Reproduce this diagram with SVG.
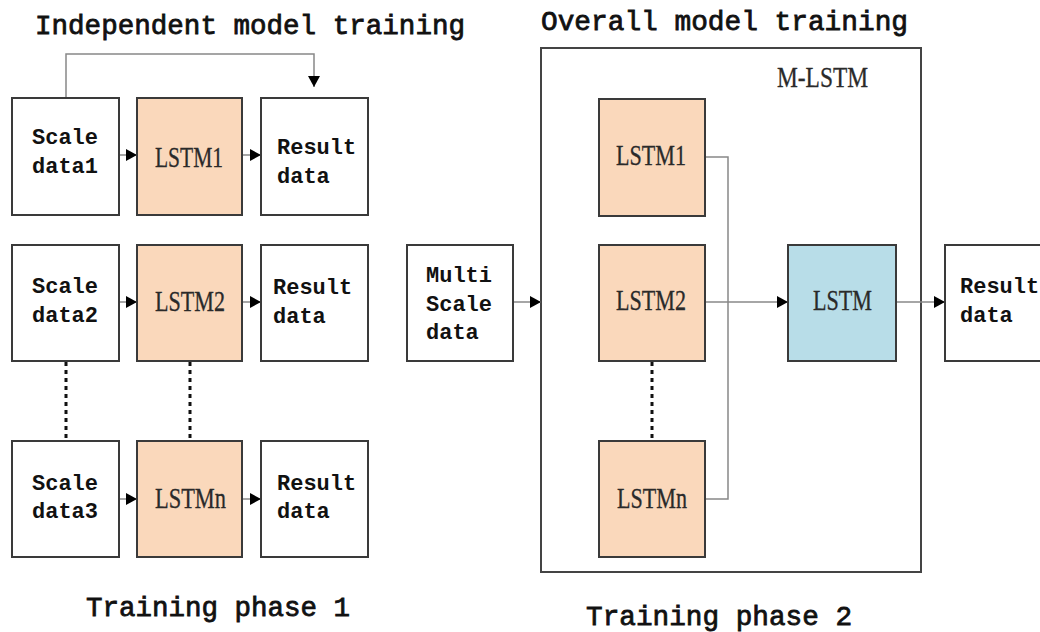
<svg xmlns="http://www.w3.org/2000/svg" width="1040" height="632" viewBox="0 0 1040 632">
<style>
.box{fill:#fff;stroke:#3a3a3a;stroke-width:2}
.peach{fill:#fad8bb;stroke:#3a3a3a;stroke-width:2}
.blue{fill:#b8dde8;stroke:#3a3a3a;stroke-width:2}
.frame{fill:none;stroke:#444;stroke-width:2}
.mono{font-family:"Liberation Mono","DejaVu Sans Mono",monospace;font-weight:bold;font-size:22px;fill:#111}
.title{font-family:"Liberation Mono","DejaVu Sans Mono",monospace;font-size:28px;fill:#111;stroke:#111;stroke-width:0.8}
.serif{font-family:"Liberation Serif","Times New Roman",serif;font-size:30px;fill:#2a2a2a;stroke:#2a2a2a;stroke-width:0.3}
.line{fill:none;stroke:#888;stroke-width:1.5}
.dot{fill:none;stroke:#111;stroke-width:3;stroke-dasharray:4 4}
</style>
<defs>
<marker id="ah" markerWidth="11" markerHeight="12" refX="11" refY="6" orient="auto" markerUnits="userSpaceOnUse">
<path d="M0,0 L11,6 L0,12 Z" fill="#000"/>
</marker>
</defs>
<rect width="1040" height="632" fill="#fff"/>
<text class="title" x="35" y="34" textLength="430" lengthAdjust="spacingAndGlyphs">Independent model training</text>
<text class="title" x="541" y="30" textLength="367" lengthAdjust="spacingAndGlyphs">Overall model training</text>
<text class="title" x="86" y="616" textLength="264" lengthAdjust="spacingAndGlyphs">Training phase 1</text>
<text class="title" x="586" y="625" textLength="266" lengthAdjust="spacingAndGlyphs">Training phase 2</text>

<g id="frame-mlstm">
<rect class="frame" x="541" y="48" width="380" height="524"/>
<text class="serif" x="777" y="87" textLength="91" lengthAdjust="spacingAndGlyphs">M-LSTM</text>
</g>

<g id="connectors">
<path class="line" d="M66,98 V54 H314 V87" marker-end="url(#ah)"/>
<line class="line" x1="119" y1="155" x2="137" y2="155" marker-end="url(#ah)"/>
<line class="line" x1="242" y1="155" x2="261" y2="155" marker-end="url(#ah)"/>
<line class="line" x1="119" y1="302" x2="137" y2="302" marker-end="url(#ah)"/>
<line class="line" x1="242" y1="302" x2="261" y2="302" marker-end="url(#ah)"/>
<line class="line" x1="119" y1="499" x2="137" y2="499" marker-end="url(#ah)"/>
<line class="line" x1="242" y1="499" x2="261" y2="499" marker-end="url(#ah)"/>
<line class="dot" x1="66" y1="362" x2="66" y2="441"/>
<line class="dot" x1="190" y1="362" x2="190" y2="441"/>
<line class="dot" x1="652" y1="362" x2="652" y2="441"/>
<line class="line" x1="513" y1="302" x2="541" y2="302" marker-end="url(#ah)"/>
<path class="line" d="M705,157 H728 V499 H705"/>
<line class="line" x1="705" y1="302" x2="788" y2="302" marker-end="url(#ah)"/>
<line class="line" x1="896" y1="302" x2="945" y2="302" marker-end="url(#ah)"/>
</g>

<g id="scale1"><rect class="box" x="12" y="98" width="107" height="117"/>
<text class="mono" x="32" y="144">Scale</text><text class="mono" x="32" y="173">data1</text></g>
<g id="lstm1"><rect class="peach" x="137" y="98" width="105" height="117"/>
<text class="serif" x="155" y="167" textLength="68" lengthAdjust="spacingAndGlyphs">LSTM1</text></g>
<g id="result1"><rect class="box" x="261" y="98" width="107" height="117"/>
<text class="mono" x="277" y="154">Result</text><text class="mono" x="277" y="183">data</text></g>

<g id="scale2"><rect class="box" x="12" y="245" width="107" height="116"/>
<text class="mono" x="32" y="293">Scale</text><text class="mono" x="32" y="322">data2</text></g>
<g id="lstm2"><rect class="peach" x="137" y="245" width="105" height="116"/>
<text class="serif" x="155" y="311" textLength="70" lengthAdjust="spacingAndGlyphs">LSTM2</text></g>
<g id="result2"><rect class="box" x="261" y="245" width="107" height="116"/>
<text class="mono" x="273" y="294">Result</text><text class="mono" x="273" y="323">data</text></g>

<g id="scale3"><rect class="box" x="12" y="441" width="107" height="116"/>
<text class="mono" x="32" y="490">Scale</text><text class="mono" x="32" y="518">data3</text></g>
<g id="lstmn"><rect class="peach" x="137" y="441" width="105" height="116"/>
<text class="serif" x="155" y="508" textLength="71" lengthAdjust="spacingAndGlyphs">LSTMn</text></g>
<g id="result3"><rect class="box" x="261" y="441" width="107" height="116"/>
<text class="mono" x="277" y="490">Result</text><text class="mono" x="277" y="518">data</text></g>

<g id="multiscale"><rect class="box" x="407" y="245" width="106" height="116"/>
<text class="mono" x="426" y="282">Multi</text><text class="mono" x="426" y="311">Scale</text><text class="mono" x="426" y="339">data</text></g>

<g id="p2-lstm1"><rect class="peach" x="599" y="99" width="106" height="117"/>
<text class="serif" x="616" y="165" textLength="70" lengthAdjust="spacingAndGlyphs">LSTM1</text></g>
<g id="p2-lstm2"><rect class="peach" x="599" y="245" width="106" height="116"/>
<text class="serif" x="616" y="310" textLength="70" lengthAdjust="spacingAndGlyphs">LSTM2</text></g>
<g id="p2-lstmn"><rect class="peach" x="599" y="441" width="106" height="116"/>
<text class="serif" x="617" y="508" textLength="70" lengthAdjust="spacingAndGlyphs">LSTMn</text></g>

<g id="lstm-main"><rect class="blue" x="788" y="245" width="108" height="116"/>
<text class="serif" x="813" y="310" textLength="59" lengthAdjust="spacingAndGlyphs">LSTM</text></g>

<g id="result-final"><rect class="box" x="945" y="245" width="100" height="116"/>
<text class="mono" x="960" y="293">Result</text><text class="mono" x="960" y="322">data</text></g>
</svg>
